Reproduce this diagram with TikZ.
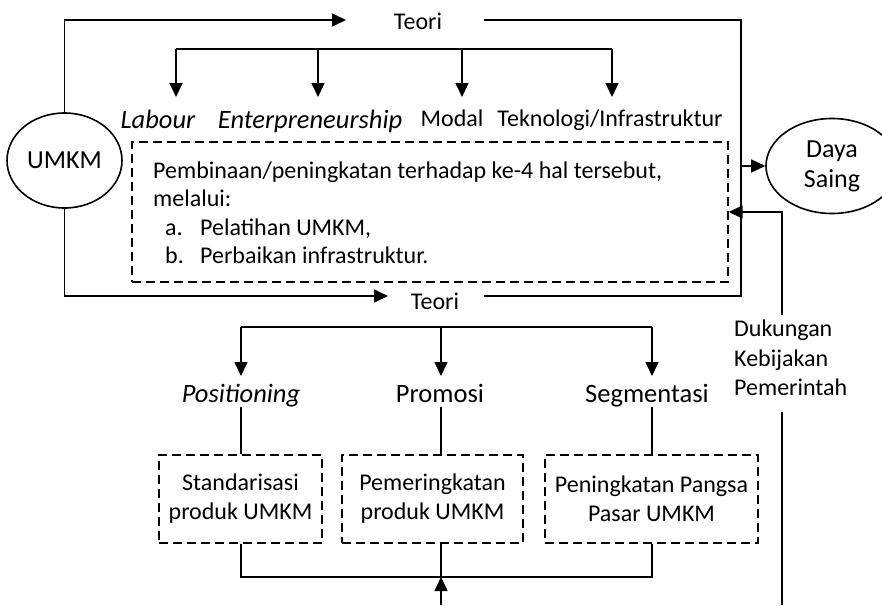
\documentclass[tikz,border=0pt]{standalone}
\usepackage{fontspec}
\setmainfont{Carlito}
\usetikzlibrary{arrows.meta,shapes.geometric}
\begin{document}
\begin{tikzpicture}[x=1pt,y=-1pt,
  conn/.style={line width=1.6pt},
  arr/.style={conn,-{Triangle[length=14pt,width=13pt]}},
  dbox/.style={draw,dash pattern=on 9pt off 5pt,line width=1.4pt},
  txt/.style={font=\fontsize{24}{29}\selectfont,inner sep=0pt},
  big/.style={font=\fontsize{26.5}{31}\selectfont,inner sep=0pt},
  oval/.style={draw,ellipse,line width=1.6pt,font=\fontsize{26}{30}\selectfont,inner sep=0pt,align=center}]
\useasboundingbox (0,0) rectangle (882,605);

% ---- top half ----
\node[oval,minimum width=115pt,minimum height=95pt] (umkm) at (64.5,160.5) {UMKM};
\node[txt] (teoriA) at (418,21.5) {Teori};
\node[txt] (teoriB) at (435,301) {Teori};
\coordinate (tAl) at (346,20);
\coordinate (tAr) at (484,20);
\coordinate (rTop) at (741,20);
\coordinate (rBot) at (741,296);
\coordinate (tBl) at (388,296);
\coordinate (tBr) at (484,296);
\draw[arr] (umkm.north) |- (tAl);
\draw[conn] (tAr) -| (rBot) -- (tBr);
\draw[arr] (umkm.south) |- (tBl);

\node[oval,minimum width=132pt,minimum height=95pt] (daya) at (832,166) {Daya\\Saing};
\draw[arr] (rTop |- daya.west) -- (daya.west);

\coordinate (k1) at (176,49);
\coordinate (k2) at (318,49);
\coordinate (k3) at (462,49);
\coordinate (k4) at (612,49);
\draw[conn] (k1) -- (k4);
\draw[arr] (k1) -- ++(0,48);
\draw[arr] (k2) -- ++(0,48);
\draw[arr] (k3) -- ++(0,48);
\draw[arr] (k4) -- ++(0,48);
\node[big,anchor=base] (labour) at (158,128) {\textit{Labour}};
\node[big,anchor=base] (entre) at (310,128) {\textit{Enterpreneurship}};
\node[txt,anchor=base] (modal) at (452,126) {Modal};
\node[txt,anchor=base] (tekno) at (610,126) {Teknologi/Infrastruktur};

\node[dbox,minimum width=596pt,minimum height=140pt,inner sep=0pt] (box) at (430,212) {};
\node[txt,anchor=base west] (l1) at (153,178) {Pembinaan/peningkatan terhadap ke-4 hal tersebut,};
\node[txt,anchor=base west] (l2) at (153,206.5) {melalui:};
\node[txt,anchor=base west] (l3) at (165,235) {\makebox[35pt][l]{a.}Pelatihan UMKM,};
\node[txt,anchor=base west] (l4) at (165,263.5) {\makebox[35pt][l]{b.}Perbaikan infrastruktur.};

% ---- government support ----
\node[txt,anchor=north west,align=left,font=\fontsize{24}{29.5}\selectfont] (dkp) at (734,320) {Dukungan\\Kebijakan\\Pemerintah};
\coordinate (g1) at (782,315);
\coordinate (g2) at (782,412);
\coordinate (g3) at (782,605);
\draw[arr] (g1) |- (box.east);
\draw[conn] (g3) -- (g2);

% ---- bottom half ----
\coordinate (m1) at (241,327);
\coordinate (m2) at (441,327);
\coordinate (m3) at (652,327);
\draw[conn] (m1) -- (m3);
\draw[arr] (m1) -- ++(0,49);
\draw[arr] (m2) -- ++(0,49);
\draw[arr] (m3) -- ++(0,49);
\node[big,anchor=base] (pos) at (241,402) {\textit{Positioning}};
\node[big,anchor=base] (pro) at (440,402) {Promosi};
\node[big,anchor=base] (seg) at (647,402) {Segmentasi};

\node[dbox,txt,align=center,minimum width=163pt,minimum height=88pt] (s1) at (240.5,499) {Standarisasi\\produk UMKM};
\node[dbox,txt,align=center,minimum width=181pt,minimum height=88pt] (s2) at (432.5,499) {Pemeringkatan\\produk UMKM};
\node[dbox,txt,align=center,minimum width=213pt,minimum height=88pt] (s3) at (651.5,499) {Peningkatan Pangsa\\Pasar UMKM};

\draw[conn] (m1 |- pos.south) -- (m1 |- s1.north);
\draw[conn] (m2 |- pos.south) -- (m2 |- s2.north);
\draw[conn] (m3 |- pos.south) -- (m3 |- s3.north);

\coordinate (n1) at (241,577);
\coordinate (n2) at (441,577);
\coordinate (n3) at (652,577);
\coordinate (nb) at (441,605);
\draw[conn] (n1 |- s1.south) -- (n1) -- (n3) -- (n3 |- s3.south);
\draw[conn] (n2 |- s2.south) -- (n2);
\draw[arr] (nb) -- (n2);
\end{tikzpicture}
\end{document}
